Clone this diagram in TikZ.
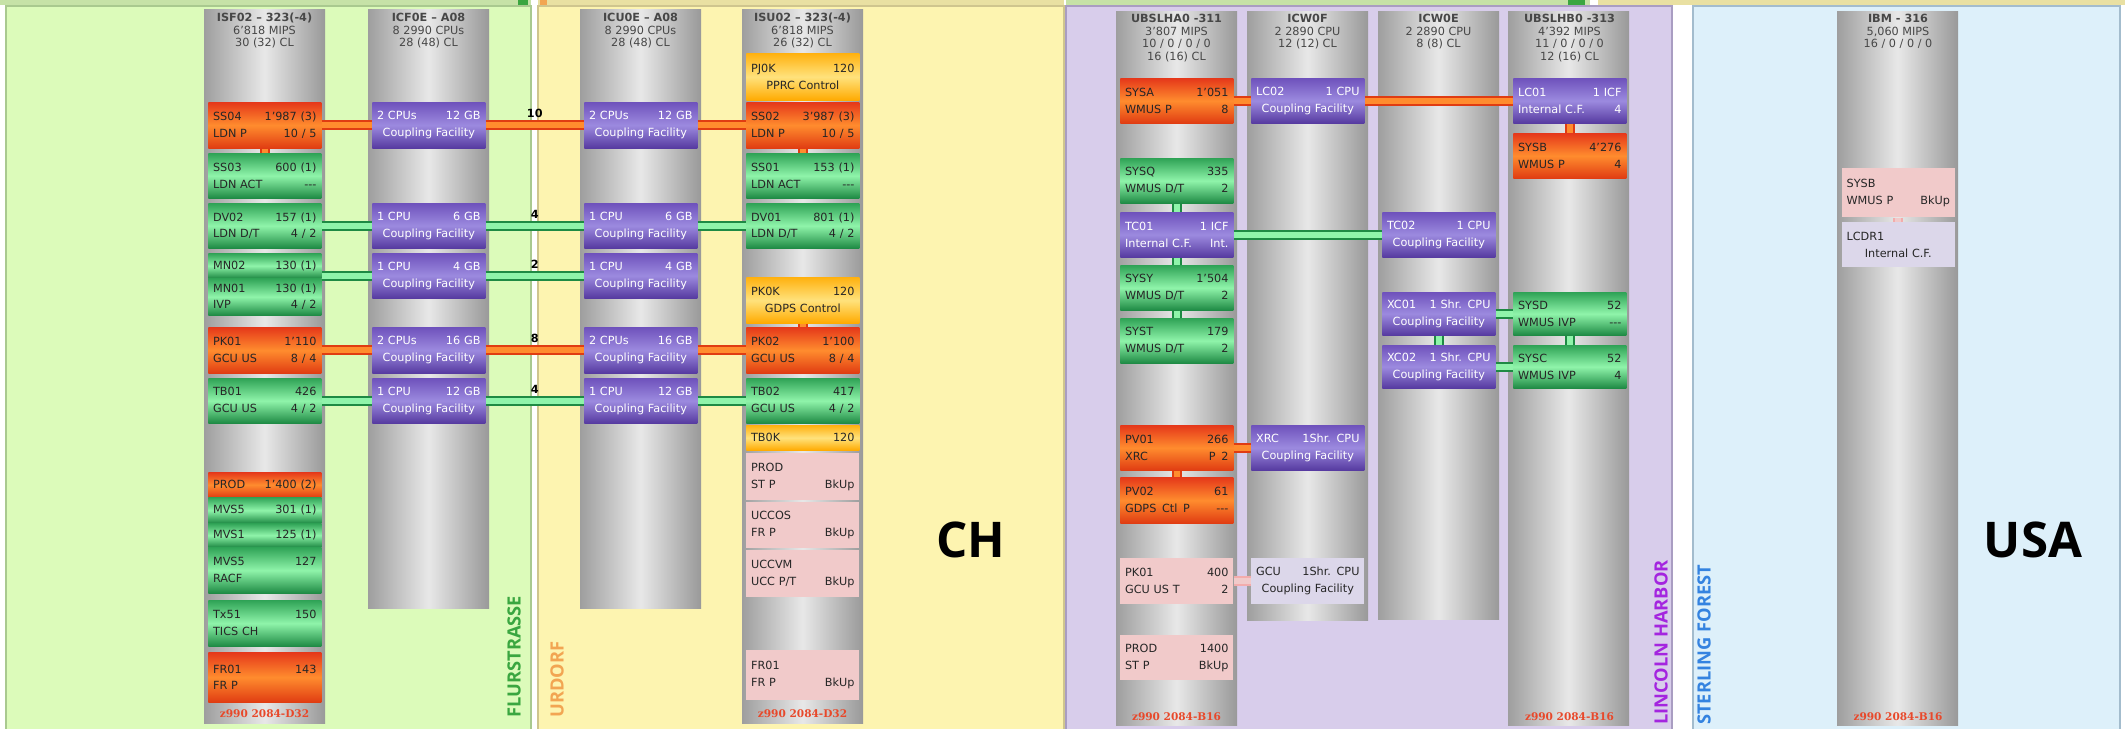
\documentclass[tikz,border=0pt]{standalone}
\usepackage{fontspec}
\setmainfont{DejaVu Sans}
\newfontfamily\labfont{Open Sans}
\newfontfamily\footfont{DejaVu Serif}
\usepackage{xcolor}
\usepackage{tikz}
\usetikzlibrary{calc}

\definecolor{grnpanel}{HTML}{DCFBBA}
\definecolor{yelpanel}{HTML}{FDF4B0}
\definecolor{purpanel}{HTML}{D8CDEB}
\definecolor{bluepanel}{HTML}{DDF0FA}
\definecolor{grnedge}{HTML}{A9C98F}
\definecolor{yeledge}{HTML}{CFC58E}
\definecolor{puredge}{HTML}{A99DC2}
\definecolor{blueedge}{HTML}{A3BCCD}
\definecolor{orgtop}{HTML}{E5381A}
\definecolor{orgmid}{HTML}{FF8C2E}
\definecolor{orgbot}{HTML}{E03C12}
\definecolor{grntop}{HTML}{2FA356}
\definecolor{grnmid}{HTML}{8FF4AA}
\definecolor{grnbot}{HTML}{1E8A44}
\definecolor{purtop}{HTML}{6F52BC}
\definecolor{purmid}{HTML}{9C8ADF}
\definecolor{purbot}{HTML}{563AA0}
\definecolor{goldtop}{HTML}{FFB10F}
\definecolor{goldmid}{HTML}{FFE27C}
\definecolor{goldbot}{HTML}{FFAA00}
\definecolor{bkpink}{HTML}{F1CACA}
\definecolor{palelav}{HTML}{DCD7EA}
\definecolor{footred}{HTML}{E8482A}
\definecolor{flurgreen}{HTML}{3AA640}
\definecolor{urdorange}{HTML}{F2A552}
\definecolor{lincpurple}{HTML}{A425DF}
\definecolor{sterblue}{HTML}{3483E0}

\newcommand{\midtxt}[1]{\leavevmode\null\hfill #1\hfill\null}

\tikzset{every node/.append style={font=\fontsize{8}{12}\selectfont}}
\tikzset{
  mainframe/.style={left color=black!38, right color=black!40, middle color=black!9},
  box/.style={anchor=north west, minimum width=28.25mm, text width=25.85mm,
    inner xsep=1.2mm, inner ysep=0pt, align=left, text=black!85},
  boxh/.style={minimum height=#1*0.25mm},
  prodbox/.style={box, top color=orgtop, bottom color=orgbot, middle color=orgmid},
  testbox/.style={box, top color=grntop, bottom color=grnbot, middle color=grnmid},
  cfbox/.style={box, top color=purtop, bottom color=purbot, middle color=purmid, text=white},
  ctlbox/.style={box, top color=goldtop, bottom color=goldbot, middle color=goldmid},
  bkupbox/.style={box, fill=bkpink},
  icfbox/.style={box, fill=palelav},
  heading/.style={anchor=north, align=center, inner sep=0pt, text=black!72,
    font=\fontsize{8}{8.9}\selectfont},
  footer/.style={anchor=base, inner sep=0pt, text=footred,
    font=\footfont\bfseries\fontsize{7.5}{8}\selectfont},
  olink/.style={draw=orgbot, line width=0.5mm, double=orgmid, double distance=1.5mm},
  glink/.style={draw=grnbot, line width=0.5mm, double=grnmid, double distance=1.5mm},
  plink/.style={draw=bkpink!85!red, line width=0.5mm, double=bkpink, double distance=1.5mm},
  num/.style={above=1.6mm, inner sep=0pt, text=black, font=\bfseries\fontsize{8}{9}\selectfont},
  site/.style={rotate=90, anchor=west, inner sep=0pt, font=\labfont\bfseries\fontsize{13}{14}\selectfont},
  country/.style={inner sep=0pt, text=black, font=\labfont\bfseries\fontsize{35}{40}\selectfont}
}

\begin{document}
\begin{tikzpicture}[x=0.25mm, y=-0.25mm]
    \useasboundingbox (0,0) rectangle (2125,729);
    \clip (0,0) rectangle (2125,729);
    % panels
    \fill[white] (0,0) rectangle (2125,729);
    \filldraw[fill=grnpanel, draw=grnedge, line width=0.5mm] (6,6) rectangle (531,740);
    \filldraw[fill=yelpanel, draw=yeledge, line width=0.5mm] (538,6) rectangle (1064,740);
    \filldraw[fill=purpanel, draw=puredge, line width=0.5mm] (1066,6) rectangle (1672,740);
    \filldraw[fill=bluepanel, draw=blueedge, line width=0.5mm] (1693,6) rectangle (2120,740);
    \fill[grnpanel!90!black] (0,0) rectangle (531,5);
    \fill[yelpanel!92!black] (538,0) rectangle (1064,5);
    \fill[grnpanel!90!black] (1066,0) rectangle (1590,5);
    \fill[yelpanel!92!black] (1598,0) rectangle (2125,5);
    \fill[flurgreen] (518,0) rectangle (528,5);
    \fill[urdorange] (540,0) rectangle (547,5);
    \fill[flurgreen] (1568,0) rectangle (1585,5);

    % machines
    \foreach \cx/\cy/\cb in {204/10/723, 368/10/608, 580/10/608, 742/10/723,
        1116/12/725, 1247/12/620, 1378/12/619, 1508/12/725, 1837/12/725}
        \shade[mainframe] (\cx,\cy) rectangle ({\cx+121},\cb);

    \node[heading] (isft) at (264.5,13) {\textbf{ISF02 -- 323(-4)}\\6'818 MIPS\\30 (32) CL};
    \node[heading] (icft) at (428.5,13) {\textbf{ICF0E -- A08}\\8 2990 CPUs\\28 (48) CL};
    \node[heading] (icut) at (640.5,13) {\textbf{ICU0E -- A08}\\8 2990 CPUs\\28 (48) CL};
    \node[heading] (isut) at (802.5,13) {\textbf{ISU02 -- 323(-4)}\\6'818 MIPS\\26 (32) CL};
    \node[heading] (ubat) at (1176.5,14) {\textbf{UBSLHA0 -311}\\3'807 MIPS\\10 / 0 / 0 / 0\\16 (16) CL};
    \node[heading] (icwft) at (1307.5,14) {\textbf{ICW0F}\\2 2890 CPU\\12 (12) CL};
    \node[heading] (icwet) at (1438.5,14) {\textbf{ICW0E}\\2 2890 CPU\\8 (8) CL};
    \node[heading] (ubbt) at (1569.5,14) {\textbf{UBSLHB0 -313}\\4'392 MIPS\\11 / 0 / 0 / 0\\12 (16) CL};
    \node[heading] (ibmt) at (1898,14) {\textbf{IBM - 316}\\5,060 MIPS\\16 / 0 / 0 / 0};

    \node[footer] (isff) at (264.5,717) {z990 2084-D32};
    \node[footer] (isuf) at (802.5,717) {z990 2084-D32};
    \node[footer] (ubaf) at (1176.5,720) {z990 2084-B16};
    \node[footer] (ubbf) at (1569.5,720) {z990 2084-B16};
    \node[footer] (ibmf) at (1898,720) {z990 2084-B16};

    % ISF02
    \node[prodbox, boxh=46] (ss04) at (208,102) {SS04\hfill 1'987 (3)\\LDN P\hfill 10 / 5};
    \node[testbox, boxh=45] (ss03) at (208,153) {SS03\hfill 600 (1)\\LDN ACT\hfill -{}-{}-};
    \node[testbox, boxh=45] (dv02) at (208,203) {DV02\hfill 157 (1)\\LDN D/T\hfill 4 / 2};
    \node[testbox, boxh=25] (mn02) at (208,253) {MN02\hfill 130 (1)};
    \node[testbox, boxh=37] (mn01) at (208,278) {MN01\hfill 130 (1)\\IVP\hfill 4 / 2};
    \node[prodbox, boxh=46] (pk01) at (208,327) {PK01\hfill 1'110\\GCU US\hfill 8 / 4};
    \node[testbox, boxh=45] (tb01) at (208,378) {TB01\hfill 426\\GCU US\hfill 4 / 2};
    \node[prodbox, boxh=25] (proda) at (208,472) {PROD\hfill 1'400 (2)};
    \node[testbox, boxh=26] (mvsa) at (208,497) {MVS5\hfill 301 (1)};
    \node[testbox, boxh=24] (mvsb) at (208,523) {MVS1\hfill 125 (1)};
    \node[testbox, boxh=46] (mvsc) at (208,547) {MVS5\hfill 127\\RACF};
    \node[testbox, boxh=46] (tx51) at (208,600) {Tx51\hfill 150\\TICS CH};
    \node[prodbox, boxh=50] (fra) at (208,652) {FR01\hfill 143\\FR P};

    % ICF0E and ICU0E
    \node[cfbox, boxh=46] (cfa) at (372,102) {2 CPUs\hfill 12 GB\\\midtxt{Coupling Facility}};
    \node[cfbox, boxh=45] (cfb) at (372,203) {1 CPU\hfill 6 GB\\\midtxt{Coupling Facility}};
    \node[cfbox, boxh=45] (cfc) at (372,253) {1 CPU\hfill 4 GB\\\midtxt{Coupling Facility}};
    \node[cfbox, boxh=46] (cfd) at (372,327) {2 CPUs\hfill 16 GB\\\midtxt{Coupling Facility}};
    \node[cfbox, boxh=45] (cfe) at (372,378) {1 CPU\hfill 12 GB\\\midtxt{Coupling Facility}};
    \node[cfbox, boxh=46] (cua) at (584,102) {2 CPUs\hfill 12 GB\\\midtxt{Coupling Facility}};
    \node[cfbox, boxh=45] (cub) at (584,203) {1 CPU\hfill 6 GB\\\midtxt{Coupling Facility}};
    \node[cfbox, boxh=45] (cuc) at (584,253) {1 CPU\hfill 4 GB\\\midtxt{Coupling Facility}};
    \node[cfbox, boxh=46] (cud) at (584,327) {2 CPUs\hfill 16 GB\\\midtxt{Coupling Facility}};
    \node[cfbox, boxh=45] (cue) at (584,378) {1 CPU\hfill 12 GB\\\midtxt{Coupling Facility}};

    % ISU02
    \node[ctlbox, boxh=47] (pj0k) at (746,53) {PJ0K\hfill 120\\\midtxt{PPRC Control}};
    \node[prodbox, boxh=46] (ss02) at (746,102) {SS02\hfill 3'987 (3)\\LDN P\hfill 10 / 5};
    \node[testbox, boxh=45] (ss01) at (746,153) {SS01\hfill 153 (1)\\LDN ACT\hfill -{}-{}-};
    \node[testbox, boxh=45] (dv01) at (746,203) {DV01\hfill 801 (1)\\LDN D/T\hfill 4 / 2};
    \node[ctlbox, boxh=46] (pk0k) at (746,277) {PK0K\hfill 120\\\midtxt{GDPS Control}};
    \node[prodbox, boxh=46] (pk02) at (746,327) {PK02\hfill 1'100\\GCU US\hfill 8 / 4};
    \node[testbox, boxh=45] (tb02) at (746,378) {TB02\hfill 417\\GCU US\hfill 4 / 2};
    \node[ctlbox, boxh=25] (tb0k) at (746,425) {TB0K\hfill 120};
    \node[bkupbox, boxh=47] (prodb) at (746,453) {PROD\\ST P\hfill BkUp};
    \node[bkupbox, boxh=46] (uccos) at (746,502) {UCCOS\\FR P\hfill BkUp};
    \node[bkupbox, boxh=47] (uccvm) at (746,550) {UCCVM\\UCC P/T\hfill BkUp};
    \node[bkupbox, boxh=50] (frb) at (746,650) {FR01\\FR P\hfill BkUp};

    % UBSLHA0
    \node[prodbox, boxh=45] (sysa) at (1120,78) {SYSA\hfill 1'051\\WMUS P\hfill 8};
    \node[testbox, boxh=45] (sysq) at (1120,158) {SYSQ\hfill 335\\WMUS D/T\hfill 2};
    \node[cfbox, boxh=45] (tc01) at (1120,212) {TC01\hfill 1 ICF\\Internal C.F.\hfill Int.};
    \node[testbox, boxh=45] (sysy) at (1120,265) {SYSY\hfill 1'504\\WMUS D/T\hfill 2};
    \node[testbox, boxh=45] (syst) at (1120,318) {SYST\hfill 179\\WMUS D/T\hfill 2};
    \node[prodbox, boxh=45] (pv01) at (1120,425) {PV01\hfill 266\\XRC\hfill P\enspace 2};
    \node[prodbox, boxh=46] (pv02) at (1120,477) {PV02\hfill 61\\GDPS\enspace Ctl\enspace P\hfill -{}-{}-};
    \node[bkupbox, boxh=46] (pkus) at (1120,558) {PK01\hfill 400\\GCU US T\hfill 2};
    \node[bkupbox, boxh=45] (prodc) at (1120,635) {PROD\hfill 1400\\ST P\hfill BkUp};

    % ICW0F, ICW0E
    \node[cfbox, boxh=45] (lc02) at (1251,78) {LC02\hfill 1 CPU\\\midtxt{Coupling Facility}};
    \node[cfbox, boxh=45] (xrc) at (1251,425) {XRC\hfill 1Shr. CPU\\\midtxt{Coupling Facility}};
    \node[icfbox, boxh=46] (gcu) at (1251,558) {GCU\hfill 1Shr. CPU\\\midtxt{Coupling Facility}};
    \node[cfbox, boxh=45] (tc02) at (1382,212) {TC02\hfill 1 CPU\\\midtxt{Coupling Facility}};
    \node[cfbox, boxh=43] (xc01) at (1382,292) {XC01\hfill 1 Shr. CPU\\\midtxt{Coupling Facility}};
    \node[cfbox, boxh=43] (xc02) at (1382,345) {XC02\hfill 1 Shr. CPU\\\midtxt{Coupling Facility}};

    % UBSLHB0
    \node[cfbox, boxh=45] (lc01) at (1513,78) {LC01\hfill 1 ICF\\Internal C.F.\hfill 4};
    \node[prodbox, boxh=45] (sysb) at (1513,133) {SYSB\hfill 4'276\\WMUS P\hfill 4};
    \node[testbox, boxh=43] (sysd) at (1513,292) {SYSD\hfill 52\\WMUS IVP\hfill -{}-{}-};
    \node[testbox, boxh=43] (sysc) at (1513,345) {SYSC\hfill 52\\WMUS IVP\hfill 4};

    % IBM
    \node[bkupbox, boxh=49] (sysbk) at (1841.5,168) {SYSB\\WMUS P\hfill BkUp};
    \node[icfbox, boxh=45] (lcdr) at (1841.5,222) {LCDR1\\\midtxt{Internal C.F.}};

    % links
    \draw[olink] (ss04) -- (cfa);
    \draw[olink] (cfa) -- node[num] (n10) {10} (cua);
    \draw[olink] (cua) -- (ss02);
    \draw[glink] (dv02) -- (cfb);
    \draw[glink] (cfb) -- node[num] (n4a) {4} (cub);
    \draw[glink] (cub) -- (dv01);
    \draw[glink] (cfc.west -| mn01.east) -- (cfc);
    \draw[glink] (cfc) -- node[num] (n2) {2} (cuc);
    \draw[olink] (pk01) -- (cfd);
    \draw[olink] (cfd) -- node[num] (n8) {8} (cud);
    \draw[olink] (cud) -- (pk02);
    \draw[glink] (tb01) -- (cfe);
    \draw[glink] (cfe) -- node[num] (n4b) {4} (cue);
    \draw[glink] (cue) -- (tb02);
    \draw[olink] (ss04) -- (ss03);
    \draw[olink] (ss02) -- (ss01);
    \draw[olink] (pk0k) -- (pk02);

    \draw[olink] (sysa) -- (lc02);
    \draw[olink] (lc02) -- (lc01);
    \draw[glink] (tc01) -- (tc02);
    \draw[olink] (pv01) -- (xrc);
    \draw[plink] (pkus) -- (gcu);
    \draw[glink] (xc01) -- (sysd);
    \draw[glink] (xc02) -- (sysc);
    \draw[glink] (sysq) -- (tc01);
    \draw[glink] (tc01) -- (sysy);
    \draw[glink] (sysy) -- (syst);
    \draw[olink] (pv01) -- (pv02);
    \draw[glink] (xc01) -- (xc02);
    \draw[olink] (lc01) -- (sysb);
    \draw[glink] (sysd) -- (sysc);
    \draw[plink] (sysbk) -- (lcdr);

    % sites
    \node[site, text=flurgreen] (flur) at (514,718) {FLURSTRASSE};
    \node[site, text=urdorange] (urdorf) at (557,718) {URDORF};
    \node[site, text=lincpurple] (linc) at (1661,725) {LINCOLN HARBOR};
    \node[site, text=sterblue] (ster) at (1704,725) {STERLING FOREST};
    \node[country] (ch) at (971,540) {CH};
    \node[country] (usa) at (2033,540) {USA};
\end{tikzpicture}
\end{document}
